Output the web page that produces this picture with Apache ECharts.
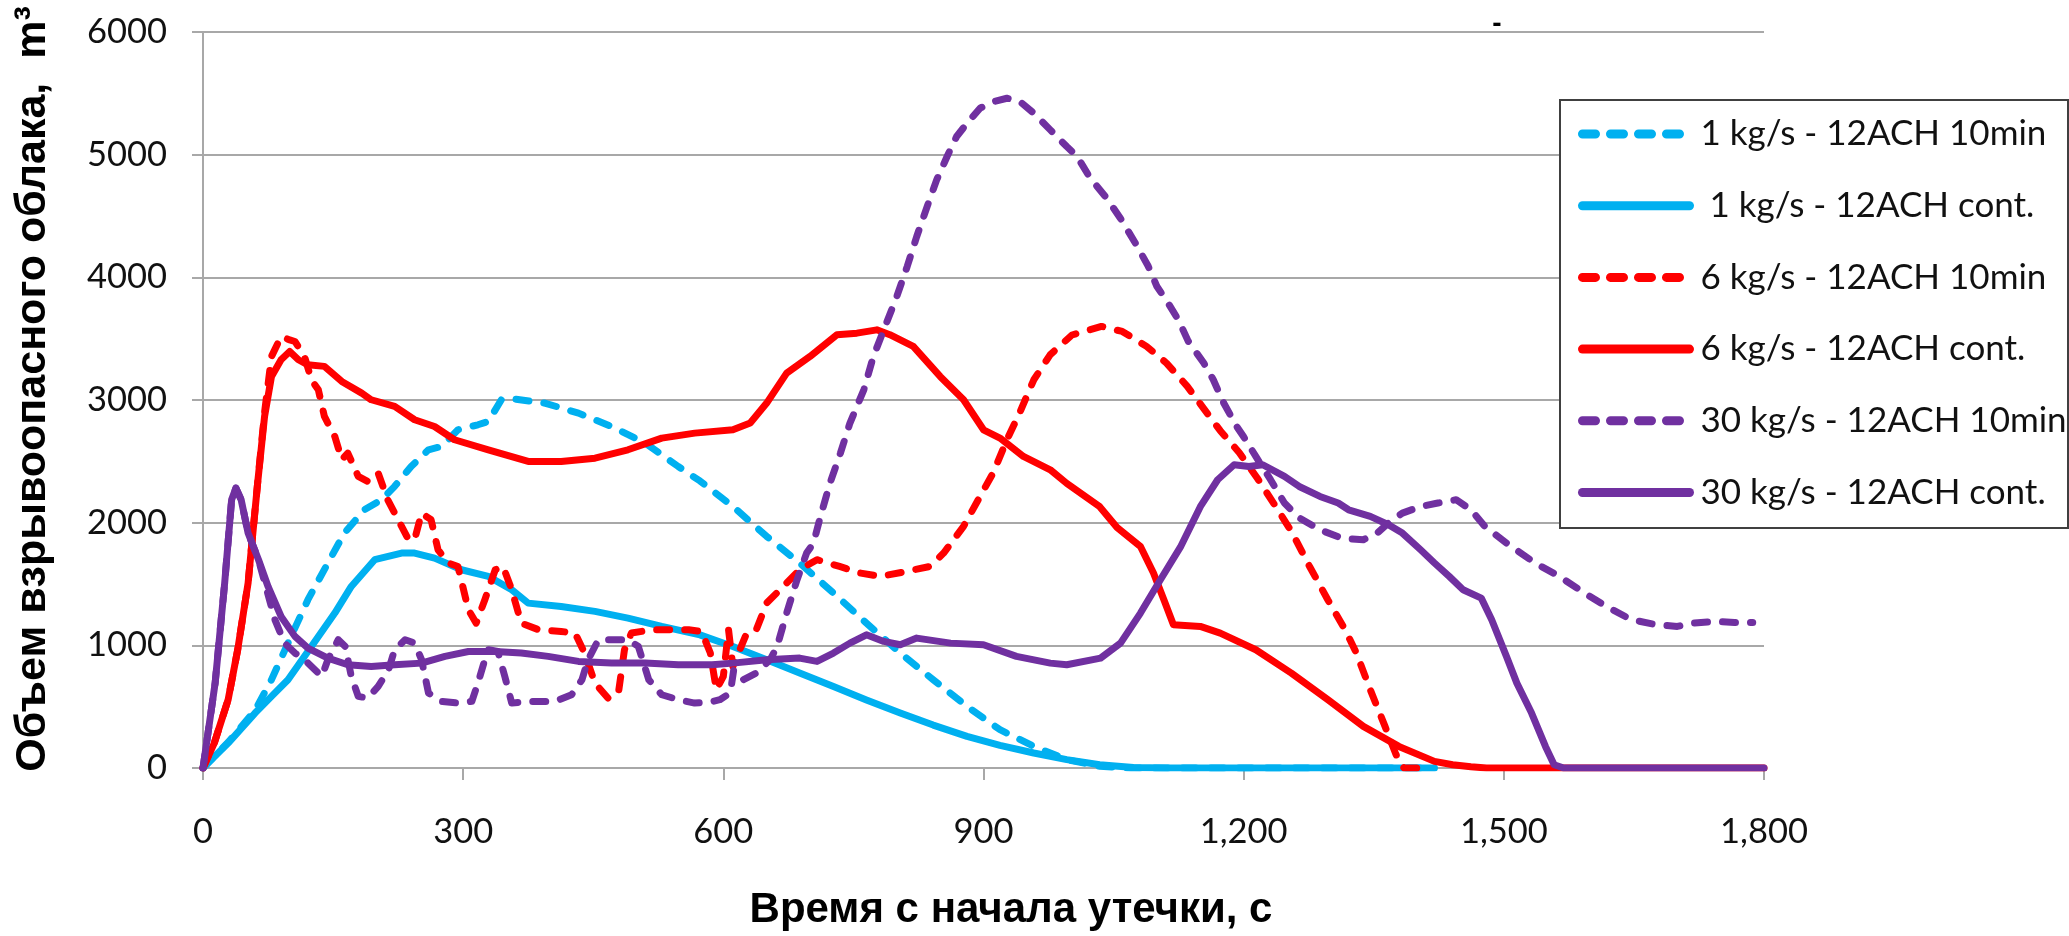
<!DOCTYPE html>
<html>
<head>
<meta charset="utf-8">
<script src="https://cdn.jsdelivr.net/npm/echarts@6/dist/echarts.min.js"></script>
<style>
html,body{margin:0;padding:0;background:#fff;}
#chart{width:2069px;height:936px;}
</style>
</head>
<body>
<div id="chart"></div>
<script>
// ---- Data (time in s, volume in m3) ----
const seriesNames = [
  '1 kg/s - 12ACH 10min',
  ' 1 kg/s - 12ACH cont.',
  '6 kg/s - 12ACH 10min',
  '6 kg/s - 12ACH cont.',
  '30 kg/s - 12ACH 10min',
  '30 kg/s - 12ACH cont.'
];
const seriesColors = ['#00B0F0', '#00B0F0', '#FF0000', '#FF0000', '#7030A0', '#7030A0'];
const seriesDashed = [true, false, true, false, true, false];

const kg1_10min = [[0,0],[29,210],[60,470],[79,720],[98,1018],[121,1372],[144,1671],[163,1915],[186,2105],[206,2187],[221,2296],[240,2458],[260,2594],[275,2621],[294,2757],[317,2798],[329,2825],[344,3002],[360,3007],[394,2975],[433,2893],[471,2784],[510,2649],[548,2458],[573,2340],[611,2132],[650,1888],[688,1671],[727,1426],[765,1181],[804,937],[842,720],[881,502],[919,312],[958,176],[996,68],[1034,14],[1070,0],[1420,0]];

const kg1_cont = [[0,0],[29,203],[60,448],[79,584],[98,720],[125,991],[152,1263],[171,1480],[198,1698],[229,1752],[244,1752],[267,1711],[298,1616],[329,1562],[356,1453],[375,1344],[413,1317],[452,1277],[490,1222],[529,1154],[573,1085],[611,990],[650,883],[688,775],[727,665],[765,555],[804,448],[842,350],[881,258],[919,185],[958,122],[996,68],[1034,27],[1073,5],[1111,0],[1420,0]];

const kg6_10min = [[0,0],[13,203],[29,557],[40,964],[52,1508],[63,2323],[71,2900],[79,3355],[90,3518],[100,3490],[106,3477],[117,3355],[125,3165],[133,3083],[140,2866],[152,2703],[160,2513],[167,2567],[179,2377],[190,2336],[202,2404],[213,2187],[225,2024],[237,1861],[244,1861],[252,2078],[263,2024],[271,1779],[283,1671],[294,1643],[306,1290],[315,1181],[325,1372],[337,1616],[346,1643],[356,1453],[367,1181],[387,1127],[413,1113],[429,1100],[440,937],[452,692],[467,570],[479,611],[486,964],[494,1100],[517,1127],[560,1127],[575,1113],[585,937],[592,638],[600,747],[606,1127],[611,828],[619,964],[627,1100],[638,1127],[650,1345],[673,1508],[688,1616],[708,1698],[734,1643],[758,1589],[781,1562],[811,1602],[838,1643],[854,1752],[877,1970],[896,2214],[911,2404],[927,2676],[942,2900],[958,3165],[977,3370],[1002,3530],[1036,3600],[1060,3559],[1088,3437],[1111,3301],[1135,3111],[1154,2930],[1173,2750],[1195,2570],[1216,2360],[1238,2120],[1255,1930],[1276,1643],[1297,1372],[1317,1127],[1330,937],[1346,638],[1363,339],[1375,122],[1380,40],[1385,0],[1412,0]];

const kg6_cont = [[0,0],[13,203],[29,557],[40,964],[52,1508],[63,2323],[71,2866],[79,3192],[90,3328],[100,3396],[110,3328],[121,3287],[140,3274],[160,3151],[183,3056],[194,3002],[221,2948],[244,2839],[267,2784],[290,2676],[329,2594],[375,2499],[413,2499],[452,2526],[490,2594],[529,2689],[567,2730],[611,2757],[631,2812],[650,2975],[673,3219],[700,3355],[731,3532],[754,3545],[777,3572],[792,3532],[819,3437],[850,3192],[877,3002],[900,2757],[919,2690],[946,2540],[977,2431],[996,2320],[1034,2130],[1054,1960],[1081,1806],[1096,1589],[1108,1372],[1119,1168],[1150,1154],[1173,1100],[1214,964],[1255,774],[1297,557],[1338,339],[1379,176],[1420,54],[1441,27],[1462,10],[1480,0],[1800,0]];

const kg30_10min = [[0,0],[14,692],[25,1508],[33,2187],[38,2282],[44,2187],[52,1915],[64,1698],[83,1208],[94,1018],[106,937],[117,883],[129,801],[137,747],[144,883],[156,1046],[164,991],[171,747],[179,584],[190,570],[202,665],[214,801],[221,964],[233,1046],[244,1018],[252,883],[260,611],[275,543],[294,529],[310,543],[317,692],[325,883],[329,964],[340,950],[348,747],[356,529],[375,543],[406,543],[425,597],[437,720],[444,883],[456,1046],[475,1046],[490,1046],[502,991],[514,720],[529,597],[548,557],[567,529],[586,540],[596,557],[608,611],[612,801],[623,720],[638,774],[654,883],[662,991],[673,1263],[685,1535],[696,1752],[704,1834],[712,2051],[723,2323],[735,2567],[746,2812],[762,3083],[773,3355],[785,3572],[800,3843],[812,4088],[823,4333],[835,4577],[846,4794],[858,4985],[869,5148],[881,5256],[896,5379],[912,5433],[927,5460],[942,5433],[958,5338],[977,5202],[996,5066],[1008,4985],[1023,4810],[1042,4645],[1058,4480],[1075,4280],[1090,4090],[1100,3925],[1112,3800],[1125,3650],[1136,3480],[1154,3301],[1165,3165],[1177,2975],[1192,2784],[1200,2700],[1214,2540],[1231,2350],[1247,2160],[1264,2040],[1288,1942],[1313,1874],[1338,1861],[1354,1915],[1367,1997],[1383,2078],[1404,2132],[1424,2160],[1445,2187],[1462,2105],[1478,1970],[1503,1834],[1536,1671],[1564,1562],[1593,1426],[1618,1317],[1647,1209],[1676,1168],[1700,1154],[1717,1181],[1742,1195],[1766,1187],[1787,1187]];

const kg30_cont = [[0,0],[14,692],[25,1508],[33,2187],[38,2282],[44,2187],[52,1915],[64,1698],[75,1480],[90,1236],[106,1073],[121,978],[144,896],[167,842],[194,828],[221,842],[252,855],[279,910],[306,950],[337,950],[367,937],[398,910],[433,869],[471,855],[510,855],[548,842],[587,842],[611,855],[650,883],[688,896],[708,869],[727,937],[746,1018],[765,1086],[785,1032],[804,1005],[823,1059],[862,1018],[900,1005],[938,910],[977,855],[996,842],[1035,896],[1058,1018],[1081,1263],[1104,1535],[1127,1800],[1150,2130],[1170,2350],[1189,2472],[1206,2458],[1222,2472],[1247,2377],[1264,2295],[1288,2214],[1309,2160],[1321,2105],[1346,2051],[1367,1983],[1383,1915],[1404,1779],[1420,1671],[1437,1562],[1453,1453],[1474,1385],[1486,1209],[1503,910],[1515,692],[1532,448],[1548,176],[1558,27],[1569,0],[1800,0]];

const seriesData = [kg1_10min, kg1_cont, kg6_10min, kg6_cont, kg30_10min, kg30_cont];

// axis ranges
const xMin = 0, xMax = 1800, xStep = 300;
const yMin = 0, yMax = 6000, yStep = 1000;

const yTitle = 'Объем взрывоопасного облака,  m³';
const xTitle = 'Время с начала утечки, с';

// ---- Chart ----
const chart = echarts.init(document.getElementById('chart'), null, {renderer: 'canvas'});
const gridColor = '#a8a8a8';
const tickFont = 'Lato';

function fmtThousands(v) {
  const s = String(Math.round(v));
  return s.replace(/\B(?=(\d{3})+(?!\d))/g, ',');
}

const series = seriesNames.map((name, i) => ({
  name: name,
  type: 'line',
  data: seriesData[i],
  symbol: 'none',
  showSymbol: false,
  smooth: false,
  animation: false,
  z: 2 + i * 0.01,
  itemStyle: {color: seriesColors[i]},
  lineStyle: {
    color: seriesColors[i],
    width: 7,
    type: seriesDashed[i] ? [13, 15] : 'solid',
    cap: 'round',
    join: 'round'
  }
}));

chart.setOption({
  animation: false,
  backgroundColor: '#ffffff',
  grid: {left: 203, top: 32, width: 1561, height: 736, containLabel: false},
  xAxis: {
    type: 'value',
    min: xMin, max: xMax, interval: xStep,
    axisLine: {show: true, lineStyle: {color: gridColor, width: 2}},
    axisTick: {show: true, inside: false, length: 12, lineStyle: {color: gridColor, width: 2}},
    splitLine: {show: false},
    axisLabel: {
      margin: 46,
      color: '#111',
      fontFamily: tickFont,
      fontSize: 34.5,
      formatter: v => fmtThousands(v)
    }
  },
  yAxis: {
    type: 'value',
    min: yMin, max: yMax, interval: yStep,
    axisLine: {show: true, lineStyle: {color: gridColor, width: 2}},
    axisTick: {show: true, inside: false, length: 11, lineStyle: {color: gridColor, width: 2}},
    splitLine: {show: true, lineStyle: {color: gridColor, width: 2}},
    axisLabel: {
      margin: 36,
      color: '#111',
      fontFamily: tickFont,
      fontSize: 34.5,
      formatter: v => String(v)
    }
  },
  legend: {
    orient: 'vertical',
    left: 1578,
    top: 114,
    padding: 0,
    itemWidth: 107,
    itemHeight: 14,
    itemGap: 31.7,
    selectedMode: false,
    data: seriesNames,
    z: 6,
    itemStyle: {opacity: 0, borderWidth: 0},
    lineStyle: {width: 9, cap: 'round'},
    textStyle: {
      fontFamily: tickFont,
      fontSize: 35,
      lineHeight: 40,
      color: '#111',
      padding: [0, 0, 0, 6]
    }
  },
  graphic: [
    {
      type: 'rect', z: 3,
      shape: {x: 1560, y: 100, width: 508, height: 428},
      style: {fill: '#ffffff', stroke: '#404040', lineWidth: 2}
    },
    {
      type: 'text', z: 5,
      x: 33, y: 389, rotation: Math.PI / 2,
      style: {
        text: yTitle, fill: '#000',
        font: 'bold 43px "Liberation Sans", Arial, sans-serif',
        align: 'center', verticalAlign: 'middle',
        textAlign: 'center', textVerticalAlign: 'middle'
      }
    },
    {
      type: 'text', z: 5,
      x: 1011, y: 910,
      style: {
        text: xTitle, fill: '#000',
        font: 'bold 42px "Liberation Sans", Arial, sans-serif',
        align: 'center', verticalAlign: 'middle',
        textAlign: 'center', textVerticalAlign: 'middle'
      }
    },
    {
      type: 'text', z: 5,
      x: 1497, y: 24,
      style: {
        text: '-', fill: '#000',
        font: 'bold 28px "Liberation Sans", Arial, sans-serif',
        align: 'center', verticalAlign: 'middle',
        textAlign: 'center', textVerticalAlign: 'middle'
      }
    }
  ],
  series: series
});
</script>
</body>
</html>
